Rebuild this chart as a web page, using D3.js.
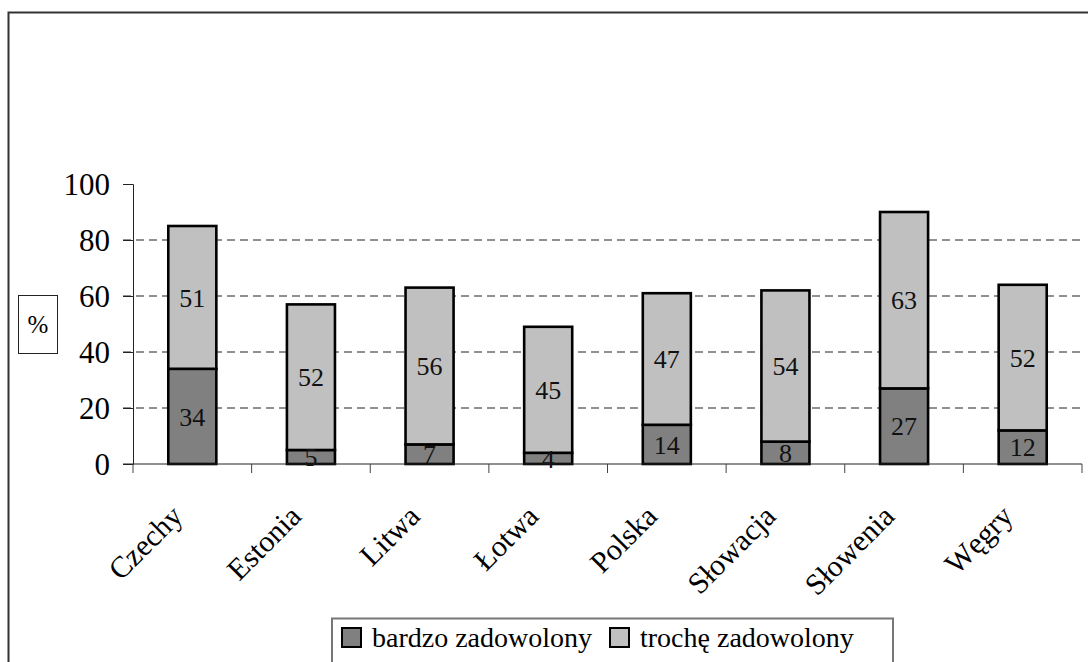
<!DOCTYPE html>
<html>
<head>
<meta charset="utf-8">
<script src="https://cdn.jsdelivr.net/npm/d3@7"></script>
<style>
  body { margin: 0; background: #fff; }
  svg { display: block; }
  text { font-family: "Times New Roman", "Liberation Serif", serif; }
</style>
</head>
<body>
<svg width="1088" height="662"></svg>
<script>
var countries = ["Czechy", "Estonia", "Litwa", "Łotwa", "Polska", "Słowacja", "Słowenia", "Węgry"];
var bardzo = [34, 5, 7, 4, 14, 8, 27, 12];
var troche = [51, 52, 56, 45, 47, 54, 63, 52];
var seriesNames = ["bardzo zadowolony", "trochę zadowolony"];
var yTicks = [0, 20, 40, 60, 80, 100];

var svg = d3.select("svg");
var colors = ["#808080", "#c0c0c0"];

// outer frame (runs off the right / bottom edge)
svg.append("rect")
  .attr("x", 8.5).attr("y", 12.5)
  .attr("width", 1100).attr("height", 700)
  .attr("fill", "none").attr("stroke", "#333").attr("stroke-width", 2);

var plotLeft = 133, plotRight = 1082, plotTop = 184, plotBottom = 464;

var x = d3.scaleBand().domain(countries).range([plotLeft, plotRight])
  .paddingInner(0.595).paddingOuter(0.2975);
var y = d3.scaleLinear().domain([0, 100]).range([plotBottom, plotTop]);

// dashed grid
svg.append("g").selectAll("line")
  .data(yTicks.filter(function(d) { return d > 0 && d < 100; }))
  .enter().append("line")
  .attr("x1", plotLeft - 10).attr("x2", plotRight)
  .attr("y1", function(d) { return y(d); })
  .attr("y2", function(d) { return y(d); })
  .attr("stroke", "#222").attr("stroke-width", 1)
  .attr("stroke-dasharray", "8,5");

// y axis
var yAxis = svg.append("g")
  .attr("transform", "translate(" + plotLeft + ",0)")
  .call(d3.axisLeft(y).tickValues(yTicks).tickSize(10).tickPadding(13));
yAxis.select(".domain").attr("stroke", "#222");
yAxis.selectAll("line").attr("stroke", "#222");
yAxis.selectAll("text").attr("font-size", 31).attr("fill", "#000")
  .attr("dy", "0.34em");

// stacked bars
var data = countries.map(function(c, i) {
  return { c: c, b: bardzo[i], t: troche[i] };
});
var g = svg.append("g");
data.forEach(function(d) {
  var segs = [[0, d.b, colors[0], d.b], [d.b, d.b + d.t, colors[1], d.t]];
  segs.forEach(function(s) {
    g.append("rect")
      .attr("x", x(d.c)).attr("width", x.bandwidth())
      .attr("y", y(s[1])).attr("height", y(s[0]) - y(s[1]))
      .attr("fill", s[2]).attr("stroke", "#000").attr("stroke-width", 2.6);
  });
  segs.forEach(function(s) {
    g.append("text")
      .attr("x", x(d.c) + x.bandwidth() / 2)
      .attr("y", (y(s[0]) + y(s[1])) / 2)
      .attr("dy", "0.35em")
      .attr("text-anchor", "middle")
      .attr("font-size", 26).attr("fill", "#111")
      .text(s[3]);
  });
});

// x axis
var step = x.step();
var xAxis = svg.append("g");
xAxis.append("line")
  .attr("x1", plotLeft - 10).attr("x2", plotRight)
  .attr("y1", plotBottom).attr("y2", plotBottom)
  .attr("stroke", "#222");
xAxis.selectAll(".tk").data(d3.range(countries.length + 1)).enter().append("line")
  .attr("x1", function(i) { return plotLeft + i * step; })
  .attr("x2", function(i) { return plotLeft + i * step; })
  .attr("y1", plotBottom).attr("y2", plotBottom + 9)
  .attr("stroke", "#444");
xAxis.selectAll("text").data(countries).enter().append("text")
  .attr("transform", function(d) {
    return "translate(" + (x(d) + x.bandwidth() / 2 - 8) + ",518) rotate(-45)";
  })
  .attr("text-anchor", "end")
  .attr("font-size", 30).attr("fill", "#000")
  .text(function(d) { return d; });

// % label
svg.append("rect").attr("x", 18.5).attr("y", 295.5).attr("width", 39).attr("height", 58)
  .attr("fill", "#fff").attr("stroke", "#222").attr("stroke-width", 1);
svg.append("text").attr("x", 38).attr("y", 324).attr("dy", "0.35em")
  .attr("text-anchor", "middle").attr("font-size", 25).text("%");

// legend
var lg = svg.append("g");
lg.append("rect").attr("x", 332).attr("y", 618.5).attr("width", 561).attr("height", 60)
  .attr("fill", "#fff").attr("stroke", "#777").attr("stroke-width", 2);
var lx = [342, 610];
seriesNames.forEach(function(n, i) {
  lg.append("rect").attr("x", lx[i]).attr("y", 628).attr("width", 19).attr("height", 19)
    .attr("fill", colors[i]).attr("stroke", "#000").attr("stroke-width", 2);
  lg.append("text").attr("x", lx[i] + 30).attr("y", 647)
    .attr("font-size", 28).text(n);
});
</script>
</body>
</html>
